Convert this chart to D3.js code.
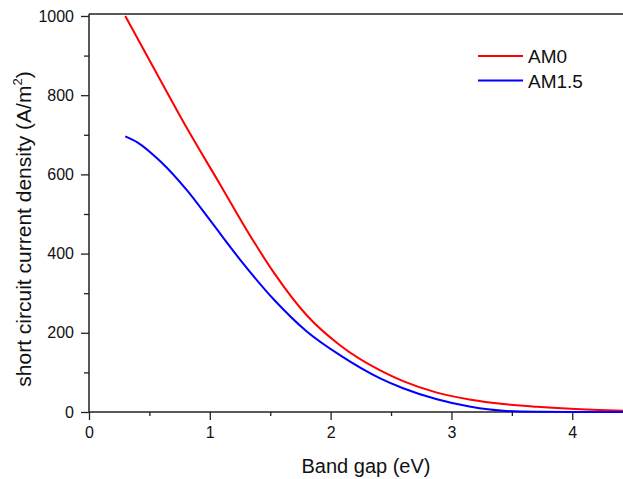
<!DOCTYPE html>
<html>
<head>
<meta charset="utf-8">
<script src="https://cdn.jsdelivr.net/npm/d3@7"></script>
<style>
  body { margin: 0; background: #fff; }
  svg { display: block; font-family: "Liberation Sans", Arial, sans-serif; }
</style>
</head>
<body>
<svg id="chart" width="623" height="479"></svg>
<script>
// band gap (eV) and short circuit current density (A/m^2)
const am0Gap = [0.30, 0.53, 0.81, 1.09, 1.33, 1.53, 1.80, 2.08, 2.41, 2.60, 2.88, 3.16, 3.43, 3.71, 3.99, 4.42];
const am0Val = [1000, 872, 717, 572, 447, 352, 245, 168, 105, 78, 49, 31, 20, 13, 8, 3];

const am15Gap = [0.30, 0.40, 0.59, 0.81, 1.00, 1.25, 1.53, 1.80, 2.08, 2.41, 2.60, 2.88, 3.16, 3.43, 3.70, 4.00, 4.42];
const am15Val = [696, 681, 633, 560, 485, 385, 284, 204, 143, 85, 60, 32, 13, 3, 0.5, 0.2, 0];

const xTicks = [0, 1, 2, 3, 4];
const xMinorTicks = [0.5, 1.5, 2.5, 3.5];
const yTicks = [0, 200, 400, 600, 800, 1000];
const yMinorTicks = [100, 300, 500, 700, 900];

(function () {
    const series = [
        { name: "AM0", color: "#ff0000", pts: am0Gap.map((g, i) => [g, am0Val[i]]) },
        { name: "AM1.5", color: "#0000ff", pts: am15Gap.map((g, i) => [g, am15Val[i]]) }
    ];

    const svg = d3.select("#chart");
    const pLeft = 89, pRight = 623, pTop = 14, pBottom = 412;

    const x = d3.scaleLinear().domain([0, 4.42]).range([pLeft, pRight]);
    const y = d3.scaleLinear().domain([0, 1005]).range([pBottom, pTop]);

    const axisColor = "#222";

    // === Axes ===
    svg.append("g").attr("transform", `translate(0,${pBottom})`)
        .call(d3.axisBottom(x).tickValues(xTicks).tickSize(8).tickPadding(7).tickFormat(d3.format("d")));
    svg.append("g").attr("transform", `translate(0,${pBottom})`)
        .call(d3.axisBottom(x).tickValues(xMinorTicks).tickSize(4).tickFormat(""));

    svg.append("g").attr("transform", `translate(${pLeft},0)`)
        .call(d3.axisLeft(y).tickValues(yTicks).tickSize(8).tickPadding(7).tickFormat(d3.format("d")));
    svg.append("g").attr("transform", `translate(${pLeft},0)`)
        .call(d3.axisLeft(y).tickValues(yMinorTicks).tickSize(5).tickFormat(""));

    svg.selectAll(".domain").remove();
    svg.selectAll(".tick line").attr("stroke", axisColor).attr("stroke-width", 1.3);
    svg.selectAll(".tick text").attr("fill", "#111")
        .style("font-size", "16px")
        .style("font-family", "Liberation Sans, Arial, sans-serif");

    // frame: left, bottom and top lines
    const frame = [
        [pLeft, pTop, pLeft, pBottom],
        [pLeft, pBottom, pRight, pBottom],
        [pLeft, pTop, pRight, pTop]
    ];
    svg.append("g").selectAll("line")
        .data(frame)
        .join("line")
        .attr("x1", d => d[0]).attr("y1", d => d[1])
        .attr("x2", d => d[2]).attr("y2", d => d[3])
        .attr("stroke", axisColor).attr("stroke-width", 1.5);

    // === Curves ===
    const line = d3.line()
        .x(d => x(d[0]))
        .y(d => y(d[1]))
        .curve(d3.curveMonotoneX);

    svg.append("g").selectAll("path")
        .data(series)
        .join("path")
        .attr("d", d => line(d.pts))
        .attr("fill", "none")
        .attr("stroke", d => d.color)
        .attr("stroke-width", 2);

    // === Labels ===
    svg.append("text")
        .attr("x", 366).attr("y", 473)
        .attr("text-anchor", "middle")
        .style("font-size", "20px")
        .attr("fill", "#111")
        .text("Band gap (eV)");

    const yLab = svg.append("text")
        .attr("transform", "translate(31,229) rotate(-90)")
        .attr("text-anchor", "middle")
        .style("font-size", "21px")
        .attr("fill", "#111");
    yLab.append("tspan").text("short circuit current density (A/m");
    yLab.append("tspan").attr("dy", -9).style("font-size", "13px").text("2");
    yLab.append("tspan").attr("dy", 9).text(")");

    // === Legend ===
    const legend = svg.append("g").selectAll("g")
        .data(series)
        .join("g")
        .attr("transform", (d, i) => `translate(478,${56 + i * 24.5})`);
    legend.append("line")
        .attr("x1", 0).attr("x2", 45)
        .attr("stroke", d => d.color).attr("stroke-width", 2);
    legend.append("text")
        .attr("x", 50).attr("y", 7)
        .style("font-size", "19px")
        .attr("fill", "#111")
        .text(d => d.name);
})();
</script>
</body>
</html>
